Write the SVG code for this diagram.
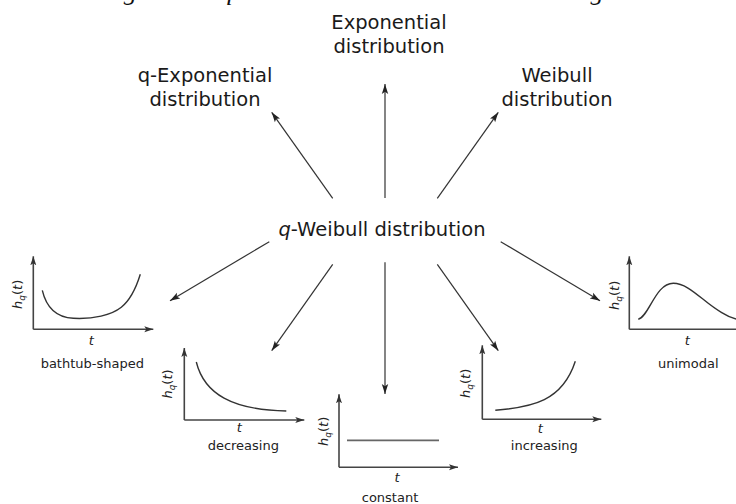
<svg xmlns="http://www.w3.org/2000/svg" width="736" height="504" viewBox="0 0 736 504">
  <style>
    .caption { font-family: "Liberation Serif", "Times New Roman", serif; font-style: italic; font-size: 26px; fill: #111; }
    .big { font-family: "DejaVu Sans", "Liberation Sans", sans-serif; font-size: 19.5px; fill: #1a1a1a; text-anchor: middle; }
    .small { font-family: "DejaVu Sans", "Liberation Sans", sans-serif; font-size: 13px; fill: #222; text-anchor: middle; }
    .ax { font-family: "DejaVu Sans", "Liberation Sans", sans-serif; font-size: 13px; fill: #222; text-anchor: middle; }
    .it { font-style: italic; }
    .conn { stroke: #333; stroke-width: 1.2; fill: none; marker-end: url(#arrow); }
    .axis { stroke: #444; stroke-width: 1.6; fill: none; marker-end: url(#axarrow); }
    .curve { stroke: #333; stroke-width: 1.4; fill: none; }
    .flat { stroke: #666; stroke-width: 1.8; fill: none; }
  </style>
  <defs>
    <marker id="arrow" markerUnits="userSpaceOnUse" markerWidth="11" markerHeight="8" viewBox="0 0 11 8" refX="10" refY="4" orient="auto">
      <path d="M0,0.8 L10,4 L0,7.2 L2.2,4 z" fill="#222"/>
    </marker>
    <marker id="axarrow" markerUnits="userSpaceOnUse" markerWidth="10" markerHeight="8" viewBox="0 0 10 8" refX="9" refY="4" orient="auto">
      <path d="M0,1 L9,4 L0,7 L2,4 z" fill="#333"/>
    </marker>
  </defs>

  <!-- figure caption, sitting just above the top edge -->
  <text class="caption" x="97" y="0" textLength="520" lengthAdjust="spacing">Figure 1: q-Weibull Distribution Coverage</text>

  <!-- central node -->
  <g id="qweibull">
    <text class="big" x="382" y="236"><tspan class="it">q</tspan>-Weibull distribution</text>
  </g>

  <!-- target distributions -->
  <g id="exponential">
    <text class="big" x="389" y="29">Exponential</text>
    <text class="big" x="389" y="53">distribution</text>
  </g>
  <g id="q-exponential">
    <text class="big" x="205" y="82">q-Exponential</text>
    <text class="big" x="205" y="106">distribution</text>
  </g>
  <g id="weibull">
    <text class="big" x="557" y="82">Weibull</text>
    <text class="big" x="557" y="106">distribution</text>
  </g>

  <!-- hazard-rate shapes -->
  <g id="bathtub" transform="translate(33.3,329.3)">
    <path class="axis" d="M0,0 V-73"/>
    <path class="axis" d="M0,0 H120"/>
    <path class="curve" d="M9,-39 C13,-22 22,-12 40,-11 C60,-10 78,-14 88,-22 C98,-30 103,-42 107,-55"/>
    <text class="ax" transform="translate(-11,-35) rotate(-90)"><tspan class="it">h</tspan><tspan class="it" font-size="9" dy="3">q</tspan><tspan dy="-3">(</tspan><tspan class="it">t</tspan>)</text>
    <text class="ax it" x="58" y="15.5">t</text>
    <text class="small" x="59" y="38.5">bathtub-shaped</text>
  </g>

  <g id="decreasing" transform="translate(184.3,420)">
    <path class="axis" d="M0,0 V-72"/>
    <path class="axis" d="M0,0 H120"/>
    <path class="curve" d="M12,-58 C20,-26 48,-10 102,-9"/>
    <text class="ax" transform="translate(-12,-36) rotate(-90)"><tspan class="it">h</tspan><tspan class="it" font-size="9" dy="3">q</tspan><tspan dy="-3">(</tspan><tspan class="it">t</tspan>)</text>
    <text class="ax it" x="55" y="12">t</text>
    <text class="small" x="59" y="30">decreasing</text>
  </g>

  <g id="constant" transform="translate(339,467.3)">
    <path class="axis" d="M0,0 V-73"/>
    <path class="axis" d="M0,0 H119"/>
    <path class="flat" d="M8,-27 H100"/>
    <text class="ax" transform="translate(-11,-36) rotate(-90)"><tspan class="it">h</tspan><tspan class="it" font-size="9" dy="3">q</tspan><tspan dy="-3">(</tspan><tspan class="it">t</tspan>)</text>
    <text class="ax it" x="58" y="14.5">t</text>
    <text class="small" x="51" y="34.5">constant</text>
  </g>

  <g id="increasing" transform="translate(482.3,419.3)">
    <path class="axis" d="M0,0 V-74"/>
    <path class="axis" d="M0,0 H119"/>
    <path class="curve" d="M13,-9 C50,-12 80,-18 93,-58"/>
    <text class="ax" transform="translate(-12,-36) rotate(-90)"><tspan class="it">h</tspan><tspan class="it" font-size="9" dy="3">q</tspan><tspan dy="-3">(</tspan><tspan class="it">t</tspan>)</text>
    <text class="ax it" x="58" y="14">t</text>
    <text class="small" x="62" y="30.5">increasing</text>
  </g>

  <g id="unimodal" transform="translate(629.3,329.3)">
    <path class="axis" d="M0,0 V-73"/>
    <path class="axis" d="M0,0 H120"/>
    <path class="curve" d="M9,-10 C20,-13 26,-46 44,-46 C60,-46 74,-27 92,-17 C100,-12 106,-10 112,-9"/>
    <text class="ax" transform="translate(-10,-34) rotate(-90)"><tspan class="it">h</tspan><tspan class="it" font-size="9" dy="3">q</tspan><tspan dy="-3">(</tspan><tspan class="it">t</tspan>)</text>
    <text class="ax it" x="58" y="15.5">t</text>
    <text class="small" x="59" y="39">unimodal</text>
  </g>

  <!-- connectors from the q-Weibull node -->
  <g id="connectors">
    <line class="conn" x1="385" y1="198" x2="385" y2="84"/>
    <line class="conn" x1="332.7" y1="198.3" x2="271.7" y2="112.3"/>
    <line class="conn" x1="437.3" y1="198.3" x2="498.3" y2="112.3"/>
    <line class="conn" x1="269.3" y1="241.7" x2="170" y2="300.7"/>
    <line class="conn" x1="332.7" y1="264.3" x2="271.7" y2="350.7"/>
    <line class="conn" x1="385" y1="262.3" x2="385" y2="394"/>
    <line class="conn" x1="437.3" y1="264.3" x2="498.3" y2="350.7"/>
    <line class="conn" x1="500.7" y1="241.7" x2="600" y2="300.7"/>
  </g>
</svg>
